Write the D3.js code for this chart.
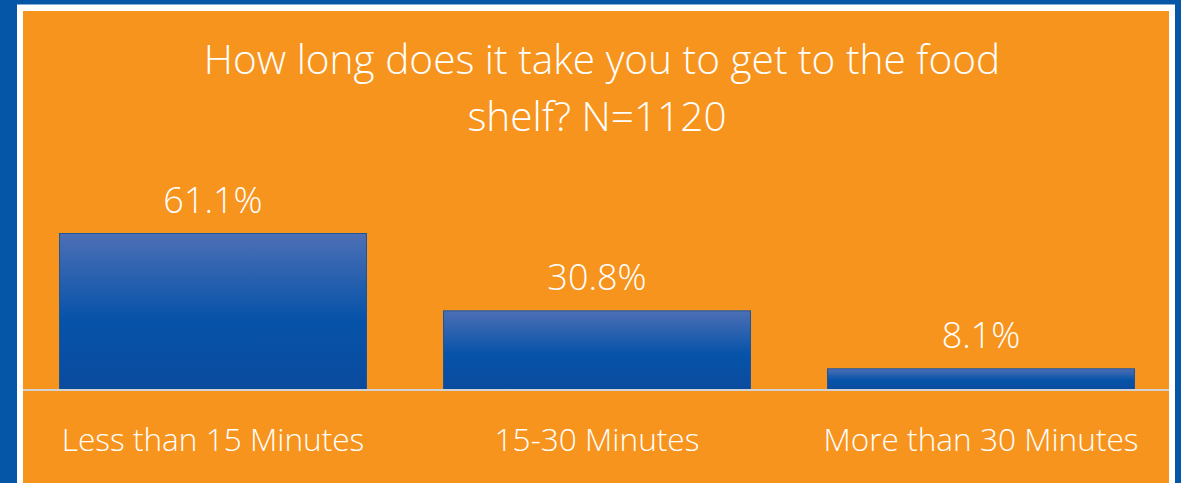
<!DOCTYPE html>
<html>
<head>
<meta charset="utf-8">
<script src="https://cdn.jsdelivr.net/npm/d3@7"></script>
<style>
  html, body { margin: 0; padding: 0; background: #0656a8; }
  svg { display: block; }
  text { font-family: "Open Sans", "Segoe UI", sans-serif; font-weight: 300; fill: #ffffff; }
</style>
</head>
<body>
<svg id="chart" width="1181" height="483"></svg>
<script>
// Survey: travel time to the food shelf
const categories = ["Less than 15 Minutes", "15-30 Minutes", "More than 30 Minutes"];
const percentages = [61.1, 30.8, 8.1];
const titleLines = ["How long does it take you to get to the food", "shelf? N=1120"];

const W = 1181, H = 483;
const svg = d3.select("#chart");

// Blue page, white frame, orange panel
svg.append("rect").attr("width", W).attr("height", H).attr("fill", "#0656a8");
svg.append("rect").attr("x", 17).attr("y", 4.5).attr("width", 1158).attr("height", H)
  .attr("fill", "#ffffff");
const panel = { left: 23, right: 1169, top: 11 };
svg.append("rect").attr("x", panel.left).attr("y", panel.top)
  .attr("width", panel.right - panel.left).attr("height", H)
  .attr("fill", "#f7941e");

// Bar gradient
const defs = svg.append("defs");
const grad = defs.append("linearGradient").attr("id", "barFill")
  .attr("x1", 0).attr("y1", 0).attr("x2", 0).attr("y2", 1);
grad.append("stop").attr("offset", "0%").attr("stop-color", "#4d6fb5");
grad.append("stop").attr("offset", "55%").attr("stop-color", "#0653a9");
grad.append("stop").attr("offset", "100%").attr("stop-color", "#0a4b9e");

// Scales
const baseline = 389;
const x = d3.scaleBand().domain(categories)
  .range([21, 1173]).paddingInner(0.198).paddingOuter(0.099);
const y = d3.scaleLinear().domain([0, 61.1]).range([baseline, 233]);

// Title
svg.append("text")
  .attr("x", 601).attr("y", 74)
  .attr("text-anchor", "middle")
  .style("font-size", "40.6px")
  .selectAll("tspan").data(titleLines).join("tspan")
  .attr("x", (d, i) => i === 0 ? 602 : 597).attr("dy", (d, i) => i === 0 ? 0 : 57)
  .text(d => d);

// Bars
const data = categories.map((c, i) => ({ c, v: percentages[i] }));
svg.append("g").selectAll("rect").data(data).join("rect")
  .attr("x", d => x(d.c) + 0.5)
  .attr("y", d => y(d.v) + 0.5)
  .attr("width", x.bandwidth() - 1)
  .attr("height", d => baseline - y(d.v))
  .attr("fill", "url(#barFill)")
  .attr("stroke", "#1d559c")
  .attr("stroke-width", 1);

// Value labels
svg.append("g").selectAll("text").data(data).join("text")
  .attr("x", d => x(d.c) + x.bandwidth() / 2)
  .attr("y", d => y(d.v) - 20)
  .attr("text-anchor", "middle")
  .style("font-size", "36px")
  .text(d => d.v.toFixed(1) + "%");

// Category axis
const axis = svg.append("g").attr("transform", `translate(0,${baseline})`)
  .call(d3.axisBottom(x).tickSize(0).tickPadding(0));
axis.select(".domain").attr("stroke", "#d2d2d2").attr("stroke-width", 2)
  .attr("d", `M${panel.left},1H${panel.right}`);
axis.selectAll(".tick text")
  .attr("y", 62).attr("dy", null)
  .attr("fill", "#ffffff")
  .style("font-family", "'Open Sans', 'Segoe UI', sans-serif")
  .style("font-weight", 300)
  .style("font-size", "31.6px");
</script>
</body>
</html>
